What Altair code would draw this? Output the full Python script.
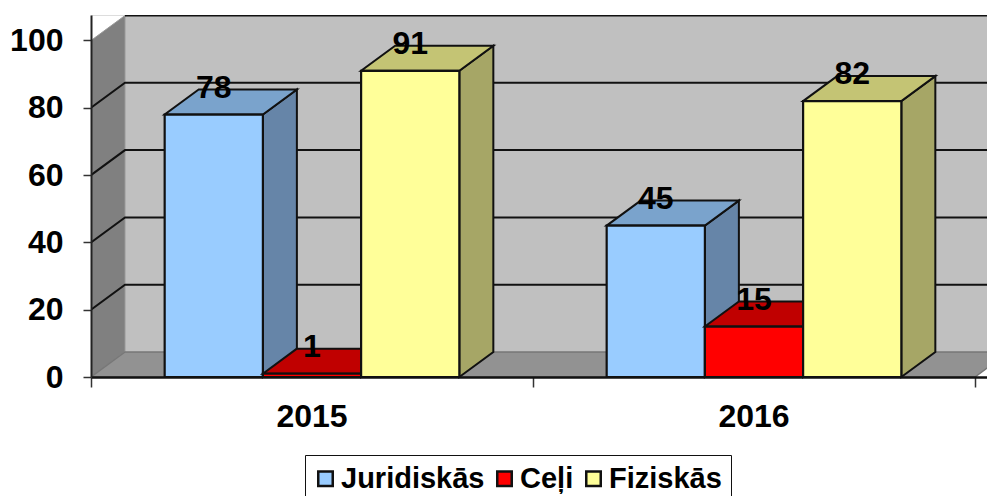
import altair as alt
import pandas as pd

categories = ["2015", "2016"]
series = ["Juridiskās", "Ceļi", "Fiziskās"]
juridiskas = [78, 45]
celi = [1, 15]
fiziskas = [91, 82]
series_values = [juridiskas, celi, fiziskas]
front_colors = ["#99CCFF", "#FF0000", "#FFFF99"]
top_colors = ["#7AA3CC", "#C00000", "#C4C474"]
side_colors = ["#6685A8", "#A60000", "#A6A666"]
grid_values = [20, 40, 60, 80, 100]

FONT = "Liberation Sans"
FS = 32
W, H = 896, 362
X_MAX = W / 442
Y_MAX = H / 3.365
DX = 34 / 442
DY = 25 / 3.365
BAR = 2 / 9
GAP = 1 / 6

X_S = alt.Scale(domain=[0, X_MAX], nice=False, zero=False)
Y_S = alt.Scale(domain=[0, Y_MAX], nice=False, zero=False)
X_AX = alt.Axis(values=[0, 1, 2], labels=False, title=None, grid=False, tickSize=10,
                tickColor="#333333", tickWidth=1.5, domainColor="#111111", domainWidth=2.5, zindex=1)
Y_AX = alt.Axis(values=[0, 20, 40, 60, 80, 100], title=None, grid=False, tickSize=8,
                tickColor="#333333", tickWidth=1.5, domainColor="#222222", domainWidth=2,
                labelFont=FONT, labelFontSize=FS, labelFontWeight="bold", labelColor="black",
                labelPadding=20, format="d", zindex=1)


def xe(f="x"):
    return alt.X(f"{f}:Q", scale=X_S, axis=X_AX)


def ye(f="y"):
    return alt.Y(f"{f}:Q", scale=Y_S, axis=Y_AX)


# walls
back = pd.DataFrame({"x": [DX, X_MAX], "y": [DY, DY], "y2": [100 + DY, 100 + DY]})
left = pd.DataFrame({"x": [0, DX], "y": [0, DY], "y2": [100, 100 + DY]})
floor = pd.DataFrame({"y": [0, DY], "x": [0, DX], "x2": [2, 2 + DX]})

layers = [
    alt.Chart(back).mark_area(color="#C0C0C0", clip=True).encode(x=xe(), y=ye(), y2="y2:Q"),
    alt.Chart(left).mark_area(color="#808080", stroke="#999999", strokeWidth=1, clip=True)
    .encode(x=xe(), y=ye(), y2="y2:Q"),
    alt.Chart(floor).mark_area(color="#929292", stroke="#777777", strokeWidth=1.5, orient="horizontal", clip=True)
    .encode(x=xe(), x2="x2:Q", y=ye()),
]

# gridlines
rows = []
for v in grid_values:
    if v != 100:
        rows.append({"g": v, "o": 0, "x": 0, "y": v})
    rows.append({"g": v, "o": 1, "x": DX, "y": v + DY})
    rows.append({"g": v, "o": 2, "x": X_MAX, "y": v + DY})
layers.append(
    alt.Chart(pd.DataFrame(rows)).mark_line(color="#111111", strokeWidth=2, clip=True)
    .encode(x=xe(), y=ye(), detail="g:N", order="o:Q")
)

# bars: series drawn left to right so later bars hide earlier side faces
for s, name in enumerate(series):
    top_rows, side_rows, front_rows = [], [], []
    for c, cat in enumerate(categories):
        v = series_values[s][c]
        x0 = c + GAP + s * BAR
        x1 = x0 + BAR
        top_rows += [
            {"b": cat, "y": v, "x": x0, "x2": x1},
            {"b": cat, "y": v + DY, "x": x0 + DX, "x2": x1 + DX},
        ]
        side_rows += [
            {"b": cat, "x": x1, "y": 0, "y2": v},
            {"b": cat, "x": x1 + DX, "y": DY, "y2": v + DY},
        ]
        front_rows.append({"s": name, "x": x0, "x2": x1, "y": 0, "y2": v})
    layers.append(
        alt.Chart(pd.DataFrame(side_rows))
        .mark_area(color=side_colors[s], stroke="#111111", strokeWidth=2)
        .encode(x=xe(), y=ye(), y2="y2:Q", detail="b:N")
    )
    layers.append(
        alt.Chart(pd.DataFrame(top_rows))
        .mark_area(color=top_colors[s], stroke="#111111", strokeWidth=2, orient="horizontal")
        .encode(x=xe(), x2="x2:Q", y=ye(), detail="b:N")
    )
    layers.append(
        alt.Chart(pd.DataFrame(front_rows))
        .mark_rect(stroke="#111111", strokeWidth=2.2)
        .encode(
            x=xe(), x2="x2:Q", y=ye(), y2="y2:Q",
            color=alt.Color(
                "s:N",
                scale=alt.Scale(domain=series, range=front_colors),
                sort=series,
                legend=alt.Legend(
                    title=None, orient="none", legendX=214, legendY=440, direction="horizontal",
                    columns=3, symbolType="square", symbolSize=210, symbolStrokeColor="#111111",
                    symbolStrokeWidth=2.5, symbolOffset=-3, labelFont=FONT, labelFontSize=29,
                    labelFontWeight="bold", labelColor="black", labelLimit=300, labelOffset=1,
                    columnPadding=7, strokeColor="#111111", fillColor="white", padding=9,
                    symbolOpacity=1,
                ),
            ),
        )
    )

# value labels
label_rows = []
for s, name in enumerate(series):
    for c, cat in enumerate(categories):
        v = series_values[s][c]
        label_rows.append({"x": c + GAP + s * BAR + BAR / 2, "y": v + DY, "t": str(v)})
layers.append(
    alt.Chart(pd.DataFrame(label_rows))
    .mark_text(font=FONT, fontSize=FS, fontWeight="bold", color="black", baseline="middle", dy=-2)
    .encode(x=xe(), y=ye(), text="t:N")
)

# category labels
cat_df = pd.DataFrame({"x": [0.5, 1.5], "y": [0, 0], "t": categories})
layers.append(
    alt.Chart(cat_df)
    .mark_text(font=FONT, fontSize=FS, fontWeight="bold", color="black", baseline="middle", dy=40)
    .encode(x=xe(), y=ye(), text="t:N")
)

chart = (
    alt.layer(*layers)
    .properties(width=W, height=H, autosize="none",
                padding={"left": 83, "top": 7, "right": 0, "bottom": 119})
    .configure_view(stroke=None)
    .configure(background="white")
)
chart.save("out.html", embed_options={"renderer": "svg", "actions": False})
